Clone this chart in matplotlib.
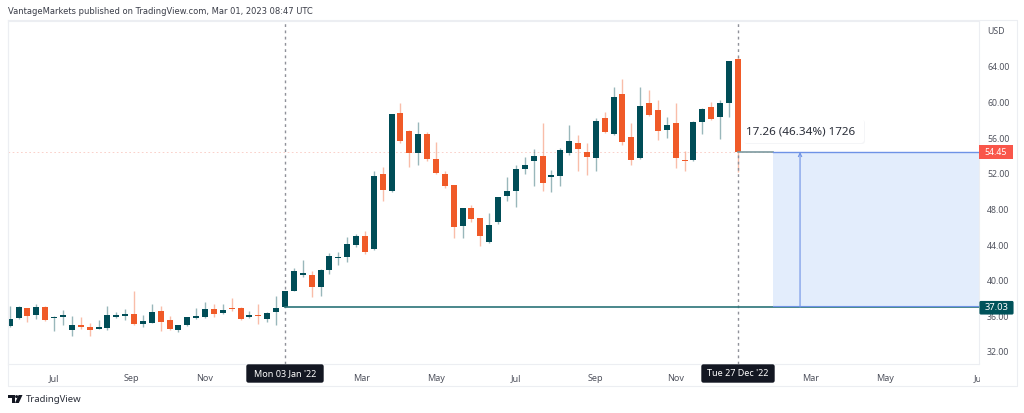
#!/usr/bin/env python3
import matplotlib
matplotlib.use('Agg')
import matplotlib.pyplot as plt
from matplotlib.patches import Rectangle, FancyBboxPatch, Polygon, Circle

# weekly candles, index 0 is the week of 03 Jan '22
first_index = -31
opens = [34.92, 35.82, 36.90, 36.12, 37.09, 35.82, 35.93, 34.43, 35.03, 34.85, 34.62, 34.73, 35.97, 36.04,
         36.23, 35.18, 35.22, 36.57, 35.59, 34.43, 35.03, 35.85, 35.89, 36.87, 36.34, 36.98, 36.94, 35.93,
         36.15, 35.67, 36.53, 37.03, 38.81, 40.68, 40.61, 39.26, 41.21, 42.59, 42.71, 44.02, 45.03, 43.53,
         52.03, 50.04, 58.84, 56.81, 54.31, 56.51, 53.67, 51.95, 50.75, 46.11, 48.20, 47.01, 44.35, 46.60,
         49.56, 50.08, 52.51, 53.45, 54.01, 51.69, 51.76, 54.38, 55.47, 54.42, 53.75, 58.27, 56.44, 60.93,
         56.10, 53.75, 59.96, 59.17, 56.93, 57.68, 53.56, 53.56, 57.79, 59.47, 58.42, 59.96, 64.94]
highs = [37.20, 37.16, 36.98, 37.35, 37.16, 36.04, 36.68, 36.04, 35.93, 35.22, 35.59, 37.16, 36.53, 36.79,
         38.85, 36.12, 37.39, 37.20, 36.04, 35.05, 35.97, 36.90, 37.65, 37.39, 37.39, 38.03, 37.00, 36.64,
         37.43, 36.49, 38.33, 38.85, 41.39, 42.33, 41.10, 41.28, 43.08, 43.19, 44.92, 45.21, 45.55, 52.29,
         52.81, 58.72, 59.92, 56.93, 57.86, 56.66, 55.58, 52.32, 50.80, 48.20, 48.51, 47.03, 47.65, 49.45,
         51.65, 52.96, 53.86, 54.83, 57.68, 52.40, 54.87, 57.45, 56.37, 55.47, 58.24, 58.95, 61.76, 62.62,
         57.75, 61.76, 61.46, 60.26, 58.42, 59.96, 54.57, 57.90, 59.36, 60.03, 60.30, 64.72, 65.10]
lows = [34.85, 35.67, 35.41, 35.74, 35.52, 34.40, 35.03, 33.80, 34.55, 33.83, 34.60, 34.47, 35.82, 35.59,
        35.07, 34.77, 35.20, 34.36, 34.47, 34.28, 34.95, 35.74, 35.82, 35.89, 36.27, 36.57, 35.59, 35.82,
        35.11, 35.41, 35.03, 37.03, 38.80, 40.46, 38.21, 38.29, 40.76, 41.81, 42.11, 43.76, 43.00, 43.45,
        48.96, 50.00, 55.50, 52.81, 53.03, 53.41, 52.00, 50.38, 44.84, 44.77, 46.60, 43.94, 44.20, 46.37,
        48.99, 48.28, 51.95, 50.68, 50.08, 50.00, 50.64, 54.08, 52.36, 51.91, 52.29, 56.55, 56.40, 55.24,
        53.00, 53.70, 58.55, 55.81, 55.99, 52.66, 52.29, 53.48, 56.44, 58.10, 55.95, 58.39, 52.18]
closes = [35.67, 37.09, 36.00, 37.05, 35.59, 35.97, 36.12, 35.03, 34.77, 34.51, 34.77, 36.15, 36.15, 36.30,
          35.18, 35.52, 36.49, 35.33, 34.58, 35.03, 35.89, 36.04, 36.79, 36.27, 36.75, 36.83, 35.67, 36.15,
          36.04, 36.42, 36.94, 38.81, 41.06, 40.83, 39.30, 41.21, 42.78, 42.71, 44.13, 45.03, 43.27, 51.73,
          50.19, 58.69, 55.69, 54.31, 56.48, 53.67, 52.06, 50.60, 46.08, 48.17, 46.94, 44.99, 46.30, 49.41,
          50.12, 52.51, 53.00, 54.01, 51.01, 51.88, 54.68, 55.73, 54.76, 53.93, 57.90, 56.74, 60.60, 55.54,
          53.60, 59.62, 58.61, 56.82, 57.45, 53.78, 53.41, 57.86, 59.29, 58.13, 60.00, 64.68, 54.45]

price_ticks = [64, 60, 56, 52, 48, 44, 40, 36, 32]
month_labels = ['Jul', 'Sep', 'Nov', 'Mar', 'May', 'Jul', 'Sep', 'Nov', 'Mar', 'May', 'Jul']
month_index = [-26, -17.3, -9, 8.6, 17, 26, 35, 44, 59.2, 67.6, 78.1]

range_start, range_end = 0, 51
entry_price, last_price = 37.03, 54.45
box_start, arrow_index = 55, 58

UP = '#004d57'
DOWN = '#f05a28'
GREY = '#50535e'
DARK = '#131722'
FONT = 'Noto Sans'

W, H = 1024, 413
fig = plt.figure(figsize=(W / 100, H / 100), dpi=100, facecolor='white')

# plot area, pixel edges
left, right, top, bottom = 8, 979, 21, 364
ax = fig.add_axes([left / W, 1 - bottom / H, (right - left) / W, (bottom - top) / H])
px_per_bar = 8.88
ax.set_xlim((left - 285) / px_per_bar, (right - 285) / px_per_bar)
ax.set_ylim(64 - (bottom - 67) / 8.906, 64 + (67 - top) / 8.906)

for i, (o, h, l, c) in enumerate(zip(opens, highs, lows, closes)):
    x = first_index + i
    color = UP if c >= o else DOWN
    ax.vlines(x, l, h, color=color, linewidth=1, alpha=0.4, zorder=2)
    ax.bar(x, abs(c - o), bottom=min(o, c), width=0.68, color=color, linewidth=0, zorder=3)

# measured range
x_end = ax.get_xlim()[1]
ax.add_patch(Rectangle((box_start, entry_price), x_end - box_start, last_price - entry_price,
                       facecolor='#e3edfc', linewidth=0, zorder=1))
ax.plot([range_end, box_start], [last_price, last_price], color='#7d9aa0', linewidth=1.2, zorder=4)
ax.plot([box_start, x_end], [last_price, last_price], color='#6e92e6', linewidth=1, zorder=4)
ax.plot([range_start, x_end], [entry_price, entry_price], color='#2a7378', linewidth=1.2, zorder=4)
ax.plot([box_start, x_end], [entry_price + 0.12, entry_price + 0.12], color='#6e92e6', linewidth=0.8, zorder=4)
ax.annotate('', xy=(arrow_index, last_price), xytext=(arrow_index, entry_price),
            arrowprops=dict(arrowstyle='->', color='#6e92e6', linewidth=0.8, shrinkA=0, shrinkB=0,
                            mutation_scale=6), zorder=4)

ax.axhline(last_price, color='#f7b3a8', linewidth=0.6, linestyle=(0, (2, 3)), alpha=0.7, zorder=1)
for x in (range_start, range_end):
    ax.axvline(x, color='#8f9199', linewidth=1, linestyle=(0, (2, 2.5)), zorder=2.5)

ax.yaxis.tick_right()
ax.set_yticks(price_ticks)
ax.set_yticklabels([f'{p:.2f}' for p in price_ticks], fontsize=6.3, color=GREY, family=FONT)
ax.tick_params(axis='y', length=0, pad=5.8)
ax.set_xticks(month_index)
ax.set_xticklabels(month_labels, fontsize=6.5, color=GREY, family=FONT)
ax.tick_params(axis='x', length=0, pad=7)
for spine in ax.spines.values():
    spine.set_color('#eceef2')
    spine.set_linewidth(0.8)

# everything around the plot, in pixel coordinates
top_ax = fig.add_axes([0, 0, 1, 1], zorder=5)
top_ax.set_xlim(0, W)
top_ax.set_ylim(H, 0)
top_ax.axis('off')

top_ax.plot([8, 1017, 1017, 8, 8], [20, 20, 386, 386, 20], color='#eceef2', linewidth=0.8)
top_ax.text(8, 12, 'VantageMarkets published on TradingView.com, Mar 01, 2023 08:47 UTC',
            fontsize=6.0, color='#3a3d48', va='center', family='DejaVu Sans')
top_ax.text(987, 31, 'USD', fontsize=6.3, color=GREY, va='center', family=FONT)

# the last month label runs off the plot area in the reference
top_ax.add_patch(Rectangle((979.5, 365), 30, 20, facecolor='white', linewidth=0))

for x0, x1, label in [(246, 324, "Mon 03 Jan '22"), (701, 775, "Tue 27 Dec '22")]:
    top_ax.add_patch(FancyBboxPatch((x0 + 1, 365), x1 - x0 - 2, 17, boxstyle='round,pad=0,rounding_size=1.5',
                                    facecolor=DARK, edgecolor=DARK, linewidth=1))
    top_ax.text((x0 + x1) / 2, 374, label, fontsize=6.5, color='white', ha='center', va='center', family=FONT)

top_ax.add_patch(Rectangle((979, 145), 34, 14, facecolor='#f9564a', linewidth=0))
top_ax.text(996, 152.3, f'{last_price:.2f}', fontsize=6.3, color='white', ha='center', va='center', family=FONT)
top_ax.add_patch(FancyBboxPatch((980, 301.5), 33, 12.5, boxstyle='round,pad=0,rounding_size=1',
                                facecolor='#00525a', edgecolor='#00525a', linewidth=0.8))
top_ax.text(997, 308, f'{entry_price:.2f}', fontsize=6.8, color='white', ha='center', va='center', family=FONT)

top_ax.add_patch(FancyBboxPatch((744, 120), 121, 24, boxstyle='round,pad=0,rounding_size=3',
                                facecolor='#f0f1f4', edgecolor='none', alpha=0.7))
top_ax.add_patch(FancyBboxPatch((743, 119), 121, 24, boxstyle='round,pad=0,rounding_size=3',
                                facecolor='white', edgecolor='none'))
top_ax.text(746, 131.5, '17.26 (46.34%) 1726', fontsize=8.4, color='#2a2e39', va='center', family=FONT)

# TradingView logo and name
top_ax.add_patch(Polygon([(8, 395), (15, 395), (15, 403), (11.5, 403), (11.5, 398.2), (8, 398.2)], facecolor=DARK))
top_ax.add_patch(Circle((16.6, 396.6), 1.5, facecolor=DARK))
top_ax.add_patch(Polygon([(18.6, 395), (22.5, 395), (18.8, 403), (15, 403)], facecolor=DARK))
top_ax.text(26, 399.5, 'TradingView', fontsize=6.9, color='#2a2e39', va='center', family=FONT)

fig.savefig('out.png', dpi=100)
